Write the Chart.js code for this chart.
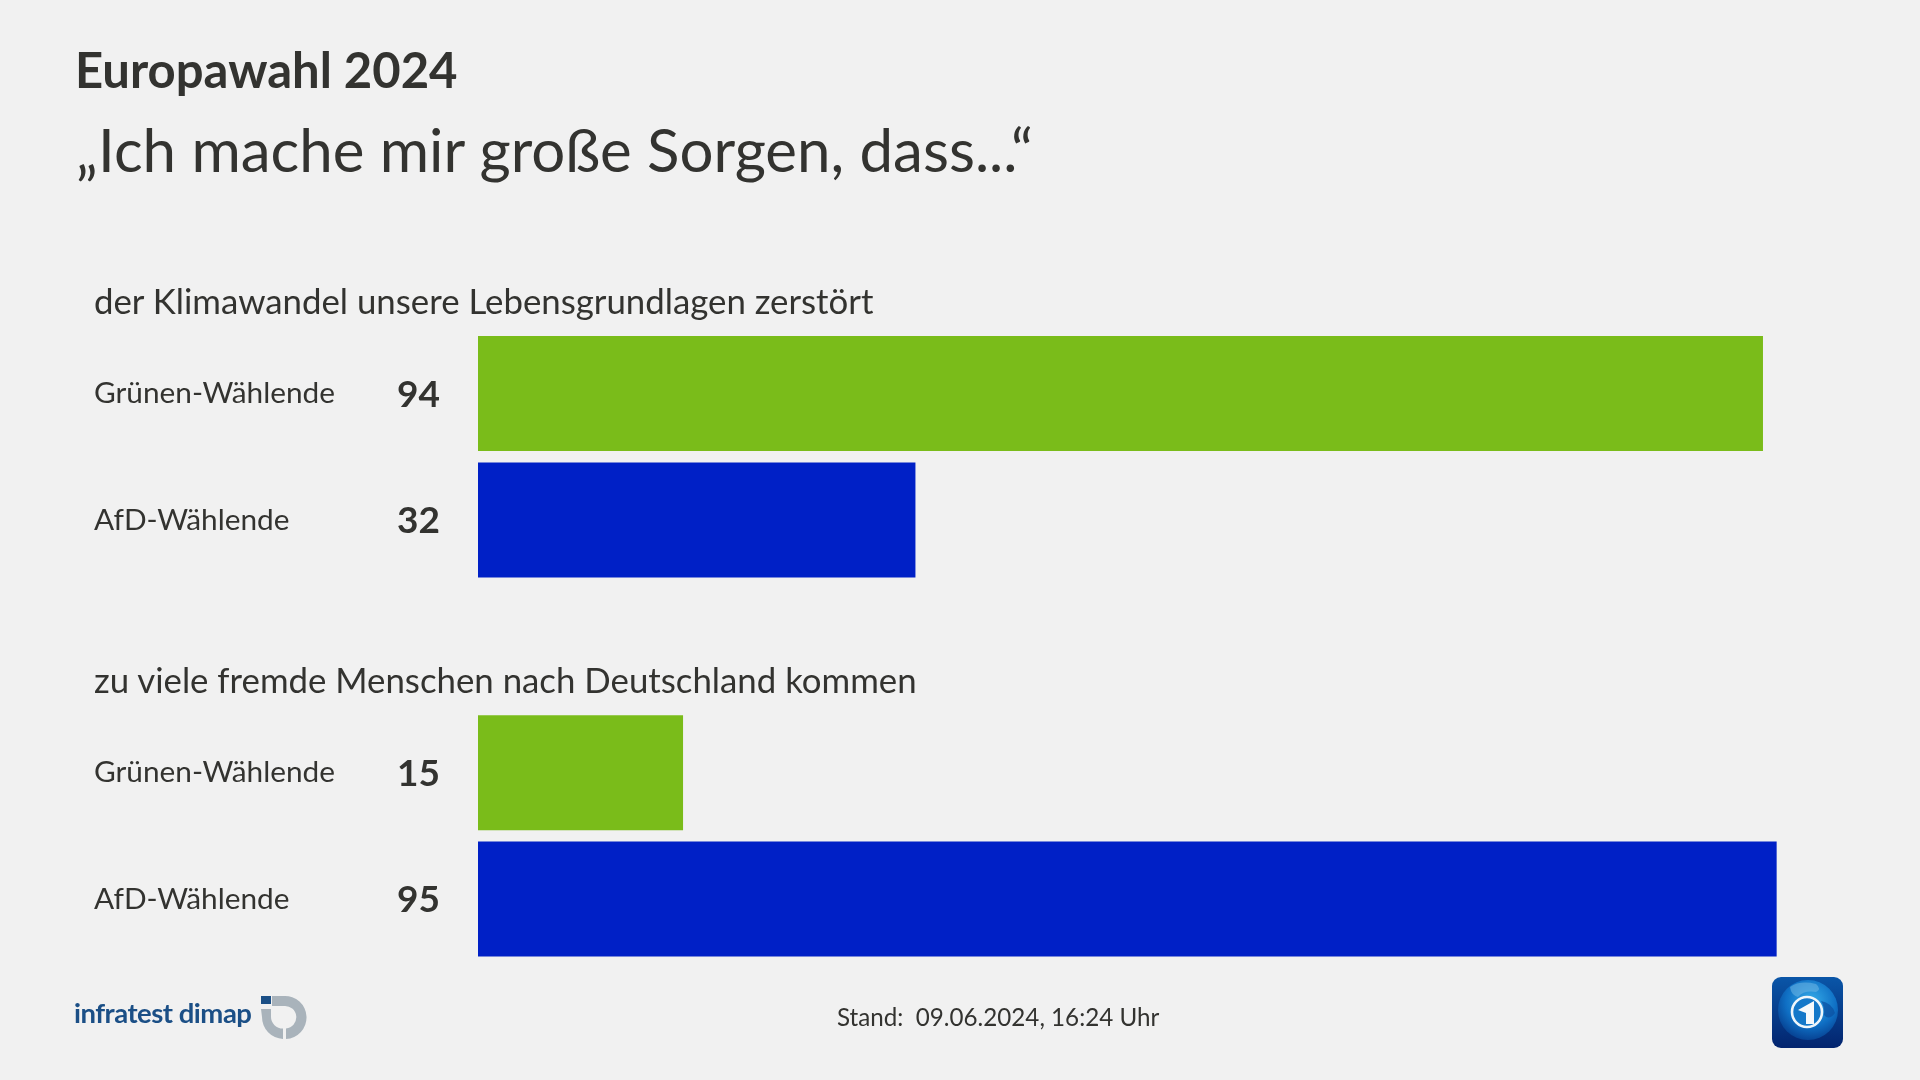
<!DOCTYPE html>
<html lang="de">
<head>
<meta charset="utf-8">
<title>Europawahl 2024</title>
<script src="https://cdn.jsdelivr.net/npm/chart.js@4"></script>
<style>
  html, body { margin: 0; padding: 0; background: #f1f1f1; }
  #stage { position: relative; width: 1920px; height: 1080px; overflow: hidden; font-family: Lato, sans-serif; color: #333330; }
  #stage canvas { position: absolute; left: 0; top: 0; }
  .txt { position: absolute; white-space: nowrap; line-height: 1; }
  #kicker { left: 75px; top: 45px; font-size: 49px; font-weight: 700; }
  #title { left: 76px; top: 119px; font-size: 60px; }
  .group { left: 94px; font-size: 34.8px; }
  #stand { left: 837px; top: 1005px; font-size: 24.2px; }
  #dimap { left: 74px; top: 999px; font-size: 27.5px; font-weight: 700; color: #1b4f86; letter-spacing: -0.5px; }
  .logo { position: absolute; }
</style>
</head>
<body>
<div id="stage">
  <canvas id="chart" width="1920" height="1080"></canvas>
  <div class="txt" id="kicker">Europawahl 2024</div>
  <div class="txt" id="title">„Ich mache mir große Sorgen, dass...“</div>
  <div class="txt group" id="group1" style="top:284px"></div>
  <div class="txt group" id="group2" style="top:663px"></div>
  <div class="txt" id="stand">Stand:&nbsp; 09.06.2024, 16:24 Uhr</div>
  <div class="txt" id="dimap">infratest dimap</div>
  <svg class="logo" style="left:259px;top:995px" width="48" height="48" viewBox="0 0 48 48">
    <rect x="2" y="1" width="10" height="8" fill="#1b4f86"/>
    <path d="M13 1 H25 A21.5 21.5 0 0 1 27 44 V33.5 A11 11 0 0 0 25 11 H13 Z" fill="#a9b3bb"/>
    <path d="M2 14 H12 V22 A12 11.5 0 0 0 24 33.5 V44 A22 22 0 0 1 3 22 Z" fill="#a9b3bb"/>
  </svg>
  <svg class="logo" style="left:1772px;top:977px" width="71" height="71" viewBox="0 0 71 71">
    <defs>
      <linearGradient id="bg" x1="0" y1="0" x2="0" y2="1">
        <stop offset="0" stop-color="#0a56a8"/><stop offset="1" stop-color="#03246e"/>
      </linearGradient>
      <radialGradient id="globe" cx="0.55" cy="0.35" r="0.7">
        <stop offset="0" stop-color="#35ace9"/><stop offset="0.6" stop-color="#0f6fc4"/><stop offset="1" stop-color="#053a8a"/>
      </radialGradient>
    </defs>
    <rect width="71" height="71" rx="9" fill="url(#bg)"/>
    <circle cx="36" cy="33" r="30" fill="url(#globe)"/>
    <path d="M18 10 Q28 3 44 7 Q50 12 44 15 Q32 13 26 20 Q19 18 18 10 Z" fill="#6fb7e4" opacity="0.55"/>
    <path d="M49 24 Q60 26 63 36 Q57 44 52 38 Q53 30 49 24 Z" fill="#0b4f9f" opacity="0.7"/>
    <circle cx="35" cy="35" r="15" fill="#1478c9" stroke="#eef6fb" stroke-width="2.6"/>
    <path d="M26 33 L42 24 V47 H34 V36 Z" fill="#f6f9fb"/>
  </svg>
</div>

<script>
const categories = ["Grünen-Wählende", "AfD-Wählende", "", "Grünen-Wählende", "AfD-Wählende"];
const values = [94, 32, null, 15, 95];
const barColors = ["#7abc1a", "#0020c6", "#f1f1f1", "#7abc1a", "#0020c6"];
const groupTitles = ["der Klimawandel unsere Lebensgrundlagen zerstört", "zu viele fremde Menschen nach Deutschland kommen"];

document.getElementById("group1").textContent = groupTitles[0];
document.getElementById("group2").textContent = groupTitles[1];

// Zahlen links neben den Balken
const valueLabels = {
  id: "valueLabels",
  afterDatasetsDraw(chart) {
    const ctx = chart.ctx;
    ctx.save();
    ctx.font = "700 37px Lato, sans-serif";
    ctx.fillStyle = "#333330";
    ctx.textAlign = "right";
    ctx.textBaseline = "middle";
    chart.getDatasetMeta(0).data.forEach((bar, i) => {
      if (values[i] !== null) ctx.fillText(values[i], 440, bar.y + 1);
    });
    ctx.restore();
  },
};

new Chart(document.getElementById("chart").getContext("2d"), {
  type: "bar",
  data: {
    labels: categories,
    datasets: [
      {
        data: values,
        backgroundColor: barColors,
        borderWidth: 0,
        categoryPercentage: 1,
        barPercentage: 0.91,
      },
    ],
  },
  options: {
    indexAxis: "y",
    responsive: false,
    animation: false,
    layout: { padding: { left: 94, right: 75, top: 330.4, bottom: 117.8 } },
    plugins: {
      legend: { display: false },
      tooltip: { enabled: false },
    },
    scales: {
      x: { display: false, min: 0, max: 100 },
      y: {
        grid: { display: false },
        border: { display: false },
        afterFit(scale) {
          scale.width = 384;
        },
        ticks: {
          crossAlign: "far",
          color: "#333330",
          font: { family: "Lato, sans-serif", size: 29.8 },
        },
      },
    },
  },
  plugins: [valueLabels],
});
</script>
</body>
</html>
